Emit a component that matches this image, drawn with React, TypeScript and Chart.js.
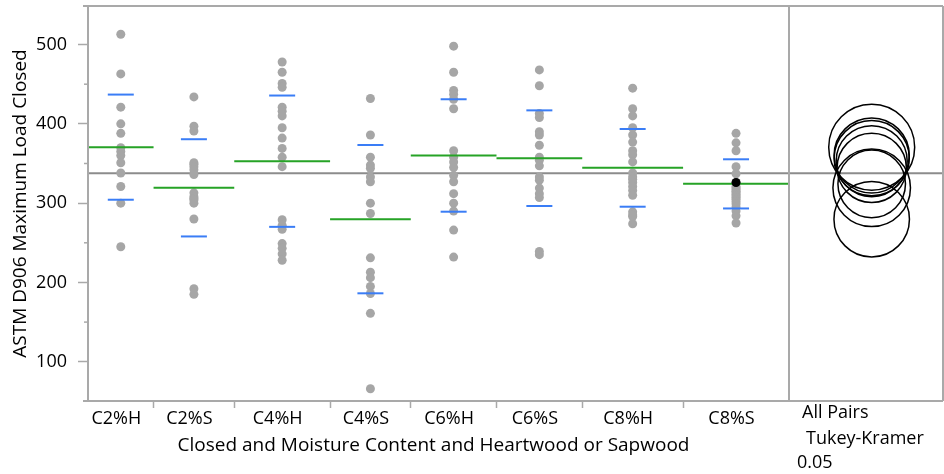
import React, { useEffect, useRef } from 'react';
import { Chart, registerables } from 'chart.js';

Chart.register(...registerables);

// ---------------- data ----------------
const groupLabels = ['C2%H', 'C2%S', 'C4%H', 'C4%S', 'C6%H', 'C6%S', 'C8%H', 'C8%S'];

const c2H = [513, 463, 421, 400, 388, 370, 365, 360, 351, 338, 321, 300, 245];
const c2S = [434, 397, 391, 351, 349, 346, 342, 336, 313, 308, 306, 304, 300, 280, 192, 185];
const c4H = [478, 465, 451, 446, 421, 416, 410, 395, 382, 369, 358, 346, 279, 272, 267, 249, 243, 236, 228];
const c4S = [432, 386, 358, 348, 344, 333, 327, 300, 287, 231, 213, 206, 195, 186, 161, 66];
const c6H = [498, 465, 442, 437, 431, 419, 366, 358, 352, 345, 335, 327, 312, 300, 290, 266, 232];
const c6S = [468, 448, 413, 408, 390, 386, 373, 358, 354, 347, 333, 329, 319, 312, 307, 239, 235];
const c8H = [445, 419, 410, 395, 386, 377, 366, 361, 352, 338, 333, 330, 326, 321, 316, 310, 289, 285, 283, 274];
const c8S = [388, 376, 366, 346, 337, 326, 321, 319, 317, 315, 313, 311, 309, 307, 305, 302, 299, 295, 290, 284, 275];

const groupValues = [c2H, c2S, c4H, c4S, c6H, c6S, c8H, c8S];

const groupMeans = [370.6, 319.3, 352.9, 279.8, 360.1, 356.7, 344.5, 324.3];
const groupStdDevs = [66.3, 61.3, 82.8, 93.5, 70.9, 60.3, 49.0, 31.0];
const comparisonCircleRadii = [54.2, 48.9, 44.8, 47.6, 47.4, 47.4, 43.7, 42.6];
const grandMean = 337.8;

const highlightedGroup = 'C8%S';
const highlightedValue = 326;

const yMajorTicks = [100, 200, 300, 400, 500];
const yMinorTicks = [150, 250, 350, 450];
const yMin = 50.5;
const yMax = 548.6;

const panelLabels = ['All Pairs', 'Tukey-Kramer', '0.05'];
const xTitle = 'Closed and Moisture Content and Heartwood or Sapwood';
const yTitle = 'ASTM D906 Maximum Load Closed';

// ---------------- styles ----------------
const FONT = "'Open Sans', 'Noto Sans', sans-serif";
const FRAME = '#A9A9A9';
const GRAND = '#8C8C8C';
const DOT = '#A6A6A6';
const GREEN = '#26A326';
const BLUE = '#3A7DF6';

export default function App() {
  const canvasRef = useRef<HTMLCanvasElement | null>(null);

  useEffect(() => {
    const canvas = canvasRef.current;
    if (!canvas) return;

    const counts = groupValues.map((g) => g.length);
    const starts: number[] = [];
    let acc = 0;
    counts.forEach((n) => {
      starts.push(acc);
      acc += n;
    });
    const total = acc;
    const centers = counts.map((n, i) => starts[i] + n / 2);
    const boundaries = starts.slice(1);

    const labelByValue = new Map<number, string>();
    centers.forEach((c, i) => labelByValue.set(c, groupLabels[i]));
    const boundarySet = new Set<number>(boundaries);

    const pointData: { x: number; y: number }[] = [];
    groupValues.forEach((vals, i) => vals.forEach((v) => pointData.push({ x: centers[i], y: v })));

    const meanData: { x: number; y: number | null }[] = [];
    groupMeans.forEach((m, i) => {
      meanData.push({ x: starts[i], y: m });
      meanData.push({ x: starts[i] + counts[i], y: m });
      meanData.push({ x: starts[i] + counts[i], y: null });
    });

    const hiIdx = groupLabels.indexOf(highlightedGroup);

    const noPad = (scale: any) => {
      scale.paddingTop = 0;
      scale.paddingBottom = 0;
      scale.paddingLeft = 0;
      scale.paddingRight = 0;
    };

    const decor = {
      id: 'jmpDecor',
      beforeDatasetsDraw(chart: any) {
        const { ctx, chartArea, scales } = chart;
        const y = scales.y.getPixelForValue(grandMean);
        ctx.save();
        ctx.strokeStyle = GRAND;
        ctx.lineWidth = 2;
        ctx.beginPath();
        ctx.moveTo(chartArea.left, y);
        ctx.lineTo(chart.width - 1, y);
        ctx.stroke();
        ctx.restore();
      },
      afterDatasetsDraw(chart: any) {
        const { ctx, chartArea, scales } = chart;
        const xs = scales.x;
        const ys = scales.y;
        ctx.save();
        ctx.strokeStyle = BLUE;
        ctx.lineWidth = 2;
        groupMeans.forEach((m, i) => {
          const xc = xs.getPixelForValue(centers[i]);
          [m + groupStdDevs[i], m - groupStdDevs[i]].forEach((v) => {
            const yy = ys.getPixelForValue(v);
            ctx.beginPath();
            ctx.moveTo(xc - 13, yy);
            ctx.lineTo(xc + 13, yy);
            ctx.stroke();
          });
        });
        const hx = xs.getPixelForValue(centers[hiIdx]);
        const hy = ys.getPixelForValue(highlightedValue);
        ctx.fillStyle = '#000';
        ctx.beginPath();
        ctx.arc(hx, hy, 4.5, 0, Math.PI * 2);
        ctx.fill();

        const right = chart.width - 1;
        const cx = chartArea.right + (right - chartArea.right) * 0.537;
        ctx.strokeStyle = '#000';
        ctx.lineWidth = 1.5;
        groupMeans.forEach((m, i) => {
          const cy = ys.getPixelForValue(m);
          const r = Math.abs(ys.getPixelForValue(m + comparisonCircleRadii[i]) - cy);
          ctx.beginPath();
          ctx.arc(cx, cy, r, 0, Math.PI * 2);
          ctx.stroke();
        });

        ctx.strokeStyle = FRAME;
        ctx.lineWidth = 1.5;
        yMinorTicks.forEach((v) => {
          const yy = ys.getPixelForValue(v);
          ctx.beginPath();
          ctx.moveTo(chartArea.left - 4, yy);
          ctx.lineTo(chartArea.left, yy);
          ctx.stroke();
        });

        ctx.strokeStyle = FRAME;
        ctx.lineWidth = 2;
        ctx.beginPath();
        ctx.moveTo(chartArea.left - 5, chartArea.top);
        ctx.lineTo(right, chartArea.top);
        ctx.moveTo(chartArea.left - 5, chartArea.bottom);
        ctx.lineTo(right, chartArea.bottom);
        ctx.moveTo(chartArea.left, chartArea.top);
        ctx.lineTo(chartArea.left, chartArea.bottom);
        ctx.moveTo(chartArea.right, chartArea.top);
        ctx.lineTo(chartArea.right, chartArea.bottom);
        ctx.moveTo(right, chartArea.top);
        ctx.lineTo(right, chartArea.bottom);
        ctx.stroke();

        ctx.fillStyle = '#000';
        ctx.font = `19px ${FONT}`;
        ctx.textAlign = 'center';
        ctx.textBaseline = 'middle';
        ctx.fillText(xTitle, (chartArea.left + chartArea.right) / 2 - 5, 446);

        ctx.font = `18px ${FONT}`;
        ctx.textAlign = 'left';
        ctx.fillText(panelLabels[0], chartArea.right + 13, 413);
        ctx.fillText(panelLabels[1], chartArea.right + 17, 439);
        ctx.fillText(panelLabels[2], chartArea.right + 8, 463);
        ctx.restore();
      },
    };

    const chart = new Chart(canvas, {
      type: 'scatter',
      data: {
        datasets: [
          {
            label: 'means',
            type: 'scatter',
            data: meanData as any,
            showLine: true,
            spanGaps: false,
            borderColor: GREEN,
            borderWidth: 2,
            pointRadius: 0,
            order: 1,
          } as any,
          {
            label: 'obs',
            data: pointData,
            backgroundColor: DOT,
            borderWidth: 0,
            pointRadius: 4.5,
            order: 2,
          },
        ],
      },
      options: {
        animation: false,
        responsive: false,
        devicePixelRatio: 1,
        events: [],
        layout: { padding: { top: 6, right: 155, left: 0, bottom: 0 }, autoPadding: false } as any,
        plugins: { legend: { display: false }, tooltip: { enabled: false } },
        scales: {
          x: {
            type: 'linear',
            min: 0,
            max: total,
            afterBuildTicks: (scale: any) => {
              const vals = [...boundaries, ...centers].sort((a, b) => a - b);
              scale.ticks = vals.map((v) => ({ value: v }));
            },
            afterFit: (scale: any) => {
              scale.height = 73;
              noPad(scale);
            },
            border: { display: false },
            grid: {
              drawOnChartArea: false,
              drawTicks: true,
              tickLength: 7,
              tickWidth: 1.5,
              tickColor: (ctx: any) => (ctx.tick && boundarySet.has(ctx.tick.value) ? FRAME : 'rgba(0,0,0,0)'),
            },
            ticks: {
              autoSkip: false,
              maxRotation: 0,
              minRotation: 0,
              padding: 0,
              labelOffset: -4.5,
              color: '#000',
              font: { family: FONT, size: 18 },
              callback: (value: any) => labelByValue.get(Number(value)) ?? '',
            },
            title: { display: false },
          },
          y: {
            type: 'linear',
            min: yMin,
            max: yMax,
            afterBuildTicks: (scale: any) => {
              scale.ticks = yMajorTicks.map((v) => ({ value: v }));
            },
            afterFit: (scale: any) => {
              scale.width = 88;
              noPad(scale);
            },
            border: { display: false },
            grid: {
              drawOnChartArea: false,
              drawTicks: true,
              tickLength: 10,
              tickWidth: 1.5,
              tickColor: FRAME,
            },
            ticks: {
              padding: 11,
              color: '#000',
              font: { family: FONT, size: 18 },
            },
            title: {
              display: true,
              text: yTitle,
              color: '#000',
              font: { family: FONT, size: 19 },
              padding: { top: 9, bottom: 0 },
            },
          },
        },
      },
      plugins: [decor],
    });

    return () => chart.destroy();
  }, []);

  return (
    <div style={{ position: 'absolute', left: 0, top: 0, width: 944, height: 474, background: '#fff' }}>
      <canvas ref={canvasRef} width={944} height={474} />
    </div>
  );
}
